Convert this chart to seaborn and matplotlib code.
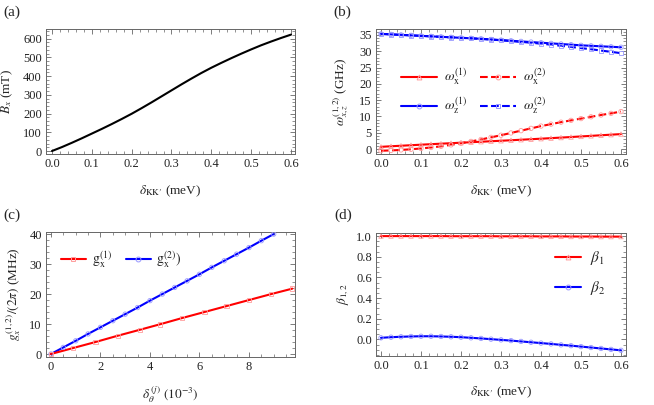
import numpy as np
import pandas as pd
import seaborn as sns
import matplotlib
matplotlib.use("Agg")
import matplotlib.pyplot as plt
from matplotlib.lines import Line2D
from matplotlib.ticker import MultipleLocator, FormatStrFormatter

# ---------------- data ----------------
delta = [0.0, 0.025, 0.05, 0.075, 0.1, 0.125, 0.15, 0.175, 0.2, 0.225, 0.25, 0.275,
         0.3, 0.325, 0.35, 0.375, 0.4, 0.425, 0.45, 0.475, 0.5, 0.525, 0.55, 0.575, 0.6]

# (a) B_x (mT)
Bx = [0, 21, 44, 68, 93, 118, 144, 171, 199, 229, 260, 292, 324, 356, 387, 417,
      445, 471, 496, 520, 543, 565, 585, 604, 622]

# (b) frequencies (GHz)
wx1 = [0.7, 0.87, 1.03, 1.19, 1.35, 1.51, 1.66, 1.81, 1.96, 2.11, 2.26, 2.41, 2.56,
       2.71, 2.87, 3.03, 3.19, 3.36, 3.53, 3.7, 3.88, 4.06, 4.24, 4.42, 4.6]
wx2 = [-0.5, -0.4, -0.25, -0.05, 0.2, 0.5, 0.85, 1.3, 1.8, 2.35, 2.95, 3.6, 4.25,
       4.95, 5.65, 6.35, 7.05, 7.65, 8.25, 8.8, 9.35, 9.9, 10.45, 10.95, 11.5]
wz1 = [35.3, 35.15, 35.0, 34.85, 34.7, 34.55, 34.4, 34.25, 34.1, 33.95, 33.8, 33.6,
       33.4, 33.2, 33.0, 32.8, 32.6, 32.4, 32.2, 32.0, 31.8, 31.65, 31.5, 31.35, 31.2]
wz2 = [35.3, 35.15, 35.0, 34.85, 34.7, 34.55, 34.4, 34.25, 34.1, 33.95, 33.75, 33.55,
       33.35, 33.1, 32.85, 32.6, 32.3, 32.0, 31.65, 31.3, 30.95, 30.6, 30.2, 29.8, 29.4]

# (c) couplings (MHz)
th_red = [0, 0.9, 1.8, 2.7, 3.6, 4.4, 5.3, 6.2, 7.1, 8.0, 8.9, 9.75]
g1 = [0, 2.0, 4.0, 6.1, 8.1, 9.9, 12.0, 14.0, 16.0, 18.0, 20.0, 21.8]
th_blue = [0, 0.5, 1.0, 1.5, 2.0, 2.5, 3.0, 3.5, 4.0, 4.5, 5.0, 5.5, 6.0,
           6.5, 7.0, 7.5, 8.0, 8.5, 9.0]
g2 = [0, 2.2, 4.4, 6.7, 8.9, 11.1, 13.3, 15.5, 17.8, 20.0, 22.2, 24.4, 26.6,
      28.9, 31.1, 33.3, 35.5, 37.8, 40.0]

# (d) beta
beta1 = [1.0, 1.0, 1.0, 1.0, 1.0, 1.0, 1.0, 0.999, 0.999, 0.999, 0.999, 0.999, 0.998,
         0.998, 0.998, 0.998, 0.997, 0.997, 0.997, 0.996, 0.996, 0.996, 0.995, 0.995, 0.995]
beta2 = [0.016, 0.022, 0.026, 0.029, 0.031, 0.031, 0.029, 0.026, 0.022, 0.016, 0.010,
         0.003, -0.004, -0.011, -0.019, -0.027, -0.035, -0.043, -0.052, -0.060,
         -0.069, -0.078, -0.087, -0.096, -0.105]

# ---------------- style ----------------
sns.set_theme(style="ticks")
plt.rcParams["font.family"] = ["Liberation Serif", "DejaVu Serif"]
plt.rcParams["mathtext.fontset"] = "stix"
FS = 9
RED, BLUE = "#ff0000", "#0000ff"
LRED, LBLUE = "#ff9c9c", "#9898ff"
FRAME = "#666666"

fig = plt.figure(figsize=(6.54, 4.05), dpi=100)
W, H = 654, 405


def add_ax(l, t, r, b):
    return fig.add_axes([l / W, 1 - b / H, (r - l) / W, (b - t) / H])


axa = add_ax(46, 29, 295, 154)
axb = add_ax(376, 29, 626, 154)
axc = add_ax(46, 232, 295, 357)
axd = add_ax(376, 233, 626, 356)


def style(ax, xmaj, xmin, ymaj, ymin):
    ax.xaxis.set_major_locator(MultipleLocator(xmaj))
    ax.xaxis.set_minor_locator(MultipleLocator(xmin))
    ax.yaxis.set_major_locator(MultipleLocator(ymaj))
    ax.yaxis.set_minor_locator(MultipleLocator(ymin))
    ax.tick_params(which="both", direction="in", top=True, right=True,
                   color=FRAME, labelsize=FS, labelcolor="#222222", pad=3)
    ax.tick_params(which="major", length=3.5, width=0.6)
    ax.tick_params(which="minor", length=2, width=0.5)
    for s in ax.spines.values():
        s.set_color(FRAME)
        s.set_linewidth(0.7)
        s.set_visible(True)


def labels(ax, xl, yl, xlx=-0.235, ylx=-0.14):
    ax.set_xlabel(xl, fontsize=FS + 0.5)
    ax.set_ylabel(yl, fontsize=FS + 0.5)
    ax.xaxis.set_label_coords(0.5, xlx)
    ax.yaxis.set_label_coords(ylx, 0.5)
    ax.xaxis.label.set_va("top")
    ax.yaxis.label.set_va("center")


xkk = "$\\delta_{\\mathrm{KK\u2032}}$ (meV)"

# ---- (a)
sns.lineplot(x=delta, y=Bx, ax=axa, color="black", linewidth=1.5)
axa.set_xlim(-0.015, 0.61)
axa.set_ylim(-16, 652)
style(axa, 0.1, 0.02, 100, 20)
axa.xaxis.set_major_formatter(FormatStrFormatter("%.1f"))
labels(axa, xkk, r"$B_x$ (mT)", ylx=-0.155)


# ---- (b)
def mk(ax, x, y, m, c):
    sns.scatterplot(x=x, y=y, ax=ax, marker=m, s=10, facecolor="none",
                    edgecolor=c, linewidth=0.6, legend=False, zorder=3)


sns.lineplot(x=delta, y=wz1, ax=axb, color=BLUE, linewidth=1.5)
sns.lineplot(x=delta, y=wz2, ax=axb, color=BLUE, linewidth=1.5, linestyle="--")
sns.lineplot(x=delta, y=wx1, ax=axb, color=RED, linewidth=1.5)
sns.lineplot(x=delta, y=wx2, ax=axb, color=RED, linewidth=1.5, linestyle="--")
mk(axb, delta, wz1, "o", LBLUE)
mk(axb, delta, wz2, "s", LBLUE)
mk(axb, delta, wx1, "^", LRED)
mk(axb, delta, wx2, "o", LRED)
axb.set_xlim(-0.0125, 0.6125)
axb.set_ylim(-1.5, 36.8)
style(axb, 0.1, 0.02, 5, 1)
axb.xaxis.set_major_formatter(FormatStrFormatter("%.1f"))
labels(axb, xkk, r"$\omega_{x,z}^{(1,2)}$ (GHz)")


def h(c, ls, m, mc):
    return Line2D([], [], color=c, linestyle=ls, linewidth=1.5, marker=m,
                  markersize=3.5, markerfacecolor="none", markeredgecolor=mc,
                  markeredgewidth=0.7)


hb = [h(RED, "-", "^", LRED), h(BLUE, "-", "o", LBLUE),
      h(RED, "--", "o", LRED), h(BLUE, "--", "s", LBLUE)]
lb = [r"$\omega_{\mathrm{x}}^{(1)}$", r"$\omega_{\mathrm{z}}^{(1)}$",
      r"$\omega_{\mathrm{x}}^{(2)}$", r"$\omega_{\mathrm{z}}^{(2)}$"]
axb.legend(hb, lb, ncol=2, frameon=False, fontsize=FS + 1,
           loc="center left", bbox_to_anchor=(0.05, 0.5),
           handlelength=2.6, columnspacing=0.9, labelspacing=0.6,
           handletextpad=0.5)

# ---- (c)
sns.lineplot(x=th_blue, y=g2, ax=axc, color=BLUE, linewidth=1.5)
sns.lineplot(x=th_red, y=g1, ax=axc, color=RED, linewidth=1.5)
mk(axc, th_blue, g2, "o", LBLUE)
mk(axc, th_red, g1, "s", LRED)
axc.set_xlim(-0.2, 9.86)
axc.set_ylim(-1.0, 40.7)
style(axc, 2, 0.5, 10, 2)
labels(axc, r"$\delta_{\theta}^{\,(j)}$ $(10^{-3})$",
       r"$g_x^{(1,2)}/(2\pi)$ (MHz)", xlx=-0.22, ylx=-0.13)
hc = [h(RED, "-", "s", LRED), h(BLUE, "-", "o", LBLUE)]
lc = [r"$\mathrm{g}_{\mathrm{x}}^{(1)}$", r"$\mathrm{g}_{\mathrm{x}}^{(2)})$"]
axc.legend(hc, lc, ncol=2, frameon=False, fontsize=FS + 1,
           loc="center left", bbox_to_anchor=(0.01, 0.78),
           handlelength=1.8, columnspacing=1.0, handletextpad=0.4)

# ---- (d)
sns.lineplot(x=delta, y=beta1, ax=axd, color=RED, linewidth=1.5)
sns.lineplot(x=delta, y=beta2, ax=axd, color=BLUE, linewidth=1.5)
mk(axd, delta, beta1, "^", LRED)
mk(axd, delta, beta2, "o", LBLUE)
axd.set_xlim(-0.0125, 0.6125)
axd.set_ylim(-0.16, 1.03)
style(axd, 0.1, 0.02, 0.2, 0.05)
axd.xaxis.set_major_formatter(FormatStrFormatter("%.1f"))
axd.yaxis.set_major_formatter(FormatStrFormatter("%.1f"))
labels(axd, xkk, r"$\beta_{1,2}$", ylx=-0.13)
hd = [h(RED, "-", "^", LRED), h(BLUE, "-", "o", LBLUE)]
ld = [r"$\beta_1$", r"$\beta_2$"]
axd.legend(hd, ld, frameon=False, fontsize=FS + 2,
           loc="center left", bbox_to_anchor=(0.66, 0.675),
           handlelength=1.7, labelspacing=0.8, handletextpad=0.6)

# panel labels
for txt, x, y in [("(a)", 3, 12), ("(b)", 333, 12), ("(c)", 3, 215), ("(d)", 334, 215)]:
    fig.text(x / W, 1 - y / H, txt, fontsize=11, va="center", ha="left")

fig.savefig("out.png", dpi=100)
